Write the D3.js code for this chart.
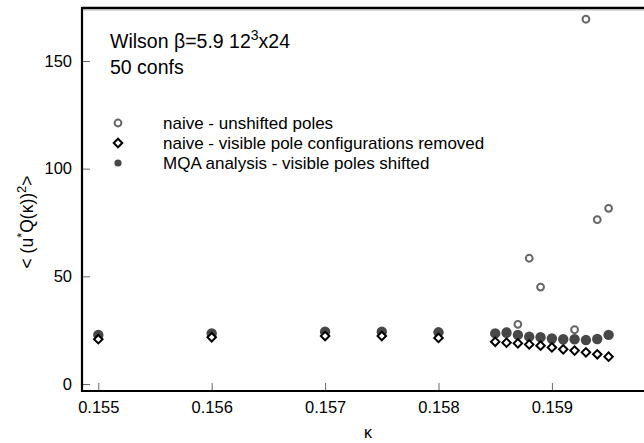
<!DOCTYPE html>
<html>
<head>
<meta charset="utf-8">
<script src="https://cdn.jsdelivr.net/npm/d3@7"></script>
<style>
  html, body { margin: 0; padding: 0; background: #fff; }
  svg { display: block; font-family: Arial, "Liberation Sans", Helvetica, sans-serif; }
</style>
</head>
<body>
<svg id="chart" width="644" height="443"></svg>
<script>
// hopping parameter kappa for each measurement
const kappa = [0.155, 0.156, 0.157, 0.1575, 0.158,
  0.1585, 0.1586, 0.1587, 0.1588, 0.1589, 0.1590, 0.1591, 0.1592, 0.1593, 0.1594, 0.1595];
// naive estimate, unshifted poles
const naiveUnshifted = [22.8, 23.5, 24.3, 24.3, 24.0,
  23.5, 24.3, 27.7, 58.4, 45.0, 20.4, 20.4, 25.2, 169.4, 76.3, 81.6];
// naive estimate with visible-pole configurations removed
const naiveRemoved = [20.8, 21.7, 22.3, 22.3, 21.4,
  19.6, 19.2, 18.9, 18.4, 17.8, 17.0, 16.1, 15.5, 14.7, 13.8, 12.7];
// MQA analysis with visible poles shifted
const mqaShifted = [22.8, 23.5, 24.3, 24.3, 24.0,
  23.5, 23.8, 22.8, 22.0, 21.7, 21.2, 20.8, 20.8, 20.4, 20.9, 22.8];

const xTicks = [0.155, 0.156, 0.157, 0.158, 0.159];
const yTicks = [0, 50, 100, 150];
const legendLabels = [
  "naive - unshifted poles",
  "naive - visible pole configurations removed",
  "MQA analysis - visible poles shifted"
];

const svg = d3.select("#chart");
const frame = { left: 82, right: 652, top: 8, bottom: 391 };

const x = d3.scaleLinear().domain([0.155, 0.159]).range([98.3, 551.9]);
const y = d3.scaleLinear().domain([0, 150]).range([384, 61]);

// frame lines
svg.append("line").attr("x1", frame.left).attr("x2", frame.right)
  .attr("y1", frame.top).attr("y2", frame.top)
  .attr("stroke", "#000").attr("stroke-width", 2.5);
svg.append("line").attr("x1", frame.left).attr("x2", frame.right)
  .attr("y1", frame.top + 2).attr("y2", frame.top + 2)
  .attr("stroke", "#aaa").attr("stroke-width", 0.8);

// y axis
const yAxis = svg.append("g")
  .attr("transform", `translate(${frame.left},0)`)
  .call(d3.axisLeft(y).tickValues(yTicks).tickFormat(d3.format("d"))
    .tickSizeInner(-8).tickSizeOuter(0).tickPadding(10));
yAxis.select(".domain").remove();
yAxis.selectAll(".tick line").attr("stroke", "#666").attr("stroke-width", 1);
yAxis.selectAll(".tick text").attr("font-size", 16.5).attr("fill", "#000")
  .attr("font-family", "Arial, 'Liberation Sans', sans-serif");

// x axis
const xAxis = svg.append("g")
  .attr("transform", `translate(0,${frame.bottom})`)
  .call(d3.axisBottom(x).tickValues(xTicks).tickFormat(d3.format(".3f"))
    .tickSizeInner(-8).tickSizeOuter(0).tickPadding(10));
xAxis.select(".domain").remove();
xAxis.selectAll(".tick line").attr("stroke", "#666").attr("stroke-width", 1);
xAxis.selectAll(".tick text").attr("font-size", 16.5).attr("fill", "#000")
  .attr("font-family", "Arial, 'Liberation Sans', sans-serif");

svg.append("line").attr("x1", frame.left).attr("x2", frame.left)
  .attr("y1", frame.top - 1).attr("y2", frame.bottom + 1)
  .attr("stroke", "#000").attr("stroke-width", 2.2);
svg.append("line").attr("x1", frame.left - 1).attr("x2", frame.right)
  .attr("y1", frame.bottom).attr("y2", frame.bottom)
  .attr("stroke", "#000").attr("stroke-width", 2.2);

// axis titles
const yTitle = svg.append("text")
  .attr("transform", "translate(33,222) rotate(-90)")
  .attr("text-anchor", "middle").attr("font-size", 17.5);
yTitle.append("tspan").text("< (u");
yTitle.append("tspan").attr("baseline-shift", "super").attr("font-size", 13).text("*");
yTitle.append("tspan").text("Q(κ))");
yTitle.append("tspan").attr("baseline-shift", "super").attr("font-size", 13).text("2");
yTitle.append("tspan").text(">");

svg.append("text").attr("x", x(0.157) + 43).attr("y", 438)
  .attr("text-anchor", "middle").attr("font-size", 16).text("κ");

// run description
const t1 = svg.append("text").attr("x", 110).attr("y", 48).attr("font-size", 19.5);
t1.append("tspan").text("Wilson β=5.9 12");
t1.append("tspan").attr("baseline-shift", "super").attr("font-size", 14).text("3");
t1.append("tspan").text("x24");
svg.append("text").attr("x", 110).attr("y", 74).attr("font-size", 19.5).text("50 confs");

// marker drawing
const diamond = d3.symbol().type(d3.symbolSquare).size(36);
function drawOpen(g, cx, cy) {
  g.append("circle").attr("cx", cx).attr("cy", cy).attr("r", 3.4)
    .attr("fill", "#fff").attr("stroke", "#666").attr("stroke-width", 2);
}
function drawFilled(g, cx, cy) {
  g.append("circle").attr("cx", cx).attr("cy", cy).attr("r", 5.2)
    .attr("fill", "#474747");
}
function drawDiamond(g, cx, cy) {
  g.append("path").attr("d", diamond)
    .attr("transform", `translate(${cx},${cy}) rotate(45)`)
    .attr("fill", "#fff").attr("stroke", "#000").attr("stroke-width", 2);
}

const marks = svg.append("g");
const gOpen = marks.append("g"), gFilled = marks.append("g"), gDiam = marks.append("g");
kappa.forEach((k, i) => drawOpen(gOpen, x(k), y(naiveUnshifted[i])));
kappa.forEach((k, i) => drawFilled(gFilled, x(k), y(mqaShifted[i])));
kappa.forEach((k, i) => drawDiamond(gDiam, x(k), y(naiveRemoved[i])));

// legend
const legend = svg.append("g");
const drawers = [drawOpen, drawDiamond, drawFilled];
legendLabels.forEach((lab, i) => {
  const ly = 123 + i * 20;
  if (i === 2) {
    legend.append("circle").attr("cx", 118).attr("cy", ly).attr("r", 3.6).attr("fill", "#474747");
  } else {
    drawers[i](legend, 118, ly);
  }
  legend.append("text").attr("x", 163).attr("y", ly + 6)
    .attr("font-size", 17).text(lab);
});
</script>
</body>
</html>
